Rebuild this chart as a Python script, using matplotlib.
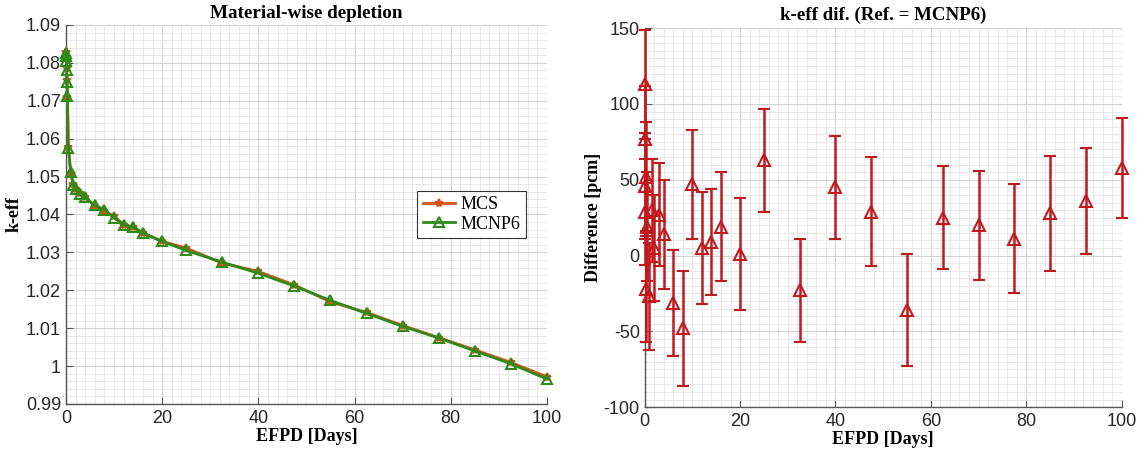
"""k-eff depletion comparison: MCS vs. MCNP6 and their difference in pcm."""

import matplotlib

matplotlib.use("Agg")
import matplotlib.pyplot as plt
from matplotlib.ticker import FuncFormatter, MultipleLocator

plt.rcParams["axes.unicode_minus"] = False

# EFPD steps [days]
days = [0, 0.05, 0.1, 0.15, 0.2, 0.3, 0.5, 1, 1.5, 2, 3, 4, 6, 8, 10, 12, 14, 16, 20,
        25, 32.5, 40, 47.5, 55, 62.5, 70, 77.5, 85, 92.5, 100]

keff_mcnp6 = [1.0825, 1.0818, 1.0805, 1.0782, 1.0750, 1.0713, 1.0575, 1.0511, 1.0478,
              1.0466, 1.0453, 1.0445, 1.0424, 1.0413, 1.0391, 1.0373, 1.0366, 1.0350,
              1.0329, 1.0305, 1.0274, 1.0245, 1.0211, 1.0173, 1.0139, 1.0105, 1.0074,
              1.0040, 1.0006, 0.9966]

keff_mcs = [1.08279, 1.08293, 1.08127, 1.07866, 1.07552, 1.07108, 1.05769, 1.05083,
            1.04810, 1.04665, 1.04557, 1.04464, 1.04209, 1.04082, 1.03957, 1.03735,
            1.03669, 1.03519, 1.03291, 1.03113, 1.02717, 1.02495, 1.02139, 1.01694,
            1.01415, 1.01070, 1.00751, 1.00428, 1.00096, 0.99718]

# MCS - MCNP6 [pcm] and 1-sigma uncertainty
diff_pcm = [29, 113, 77, 46, 52, -22, 19, -27, 30, 5, 27, 14, -31, -48, 47, 5, 9, 19, 1,
            63, -23, 45, 29, -36, 25, 20, 11, 28, 36, 58]
diff_err = [35, 36, 35, 35, 36, 35, 36, 35, 34, 35, 34, 36, 35, 38, 36, 37, 35, 36, 37,
            34, 34, 34, 36, 37, 34, 36, 36, 38, 35, 33]

SERIF = "Liberation Serif"
SANS = "Liberation Sans"
ORANGE = "#D95319"
GREEN = "#2F8A1A"
RED = "#C01A1F"


def style_axes(ax):
    for side in ("top", "right"):
        ax.spines[side].set_visible(False)
    for side in ("left", "bottom"):
        ax.spines[side].set_color("#555555")
        ax.spines[side].set_linewidth(1.0)
    ax.tick_params(which="major", direction="in", length=5, color="#555555",
                   labelsize=13, labelcolor="#262626")
    ax.tick_params(which="minor", direction="in", length=0)
    ax.tick_params(axis="x", pad=4)
    for lab in ax.get_xticklabels() + ax.get_yticklabels():
        lab.set_family(SANS)
    ax.grid(which="major", color="#d4d4d4", linewidth=0.8)
    ax.grid(which="minor", color="#e4e4e4", linewidth=0.6)
    ax.set_axisbelow(True)


def main() -> None:
    fig = plt.figure(figsize=(11.37, 4.58), dpi=100)
    ax1 = fig.add_axes([0.058, 0.118, 0.423, 0.8275])
    ax2 = fig.add_axes([0.567, 0.111, 0.4195, 0.8275])

    # left: k-eff vs burnup
    ax1.plot(days, keff_mcs, color=ORANGE, lw=2, marker="*", ms=6, mew=1.5,
             label="MCS", zorder=3, clip_on=False)
    ax1.plot(days, keff_mcnp6, color=GREEN, lw=2, marker="^", ms=7, mew=1.5,
             mfc="none", label="MCNP6", zorder=4, clip_on=False)
    ax1.set_xlim(0, 100)
    ax1.set_ylim(0.99, 1.09)
    ax1.xaxis.set_major_locator(MultipleLocator(20))
    ax1.xaxis.set_minor_locator(MultipleLocator(2))
    ax1.yaxis.set_major_locator(MultipleLocator(0.01))
    ax1.yaxis.set_minor_locator(MultipleLocator(0.002))
    ax1.yaxis.set_major_formatter(FuncFormatter(lambda v, _: f"{v:g}"))
    ax1.set_title("Material-wise depletion", fontfamily=SERIF, fontweight="bold",
                  fontsize=13.8, pad=5)
    ax1.set_xlabel("EFPD [Days]", fontfamily=SERIF, fontweight="bold", fontsize=13,
                   labelpad=1)
    ax1.set_ylabel("k-eff", fontfamily=SERIF, fontweight="bold", fontsize=13, labelpad=2)
    leg = ax1.legend(loc="center right", bbox_to_anchor=(0.975, 0.50),
                     prop={"family": SERIF, "size": 13}, fancybox=False,
                     framealpha=1, edgecolor="#333333", handlelength=1.8,
                     borderpad=0.3, labelspacing=0.15, handletextpad=0.3)
    leg.get_frame().set_linewidth(0.8)
    style_axes(ax1)

    # right: difference with error bars
    ax2.errorbar(days, diff_pcm, yerr=diff_err, fmt="^", color=RED, ms=8.5, mew=1.5,
                 mfc="none", elinewidth=1.8, capsize=4.5, capthick=1.8, zorder=3,
                 clip_on=False)
    ax2.set_xlim(0, 100)
    ax2.set_ylim(-100, 150)
    ax2.xaxis.set_major_locator(MultipleLocator(20))
    ax2.xaxis.set_minor_locator(MultipleLocator(2))
    ax2.yaxis.set_major_locator(MultipleLocator(50))
    ax2.yaxis.set_minor_locator(MultipleLocator(5))
    ax2.set_title("k-eff dif. (Ref. = MCNP6)", fontfamily=SERIF, fontweight="bold",
                  fontsize=13.6, pad=6)
    ax2.set_xlabel("EFPD [Days]", fontfamily=SERIF, fontweight="bold", fontsize=13,
                   labelpad=1)
    ax2.set_ylabel("Difference [pcm]", fontfamily=SERIF, fontweight="bold",
                   fontsize=13, labelpad=1)
    style_axes(ax2)

    fig.savefig("out.png", dpi=100)
    plt.close(fig)


if __name__ == "__main__":
    main()
